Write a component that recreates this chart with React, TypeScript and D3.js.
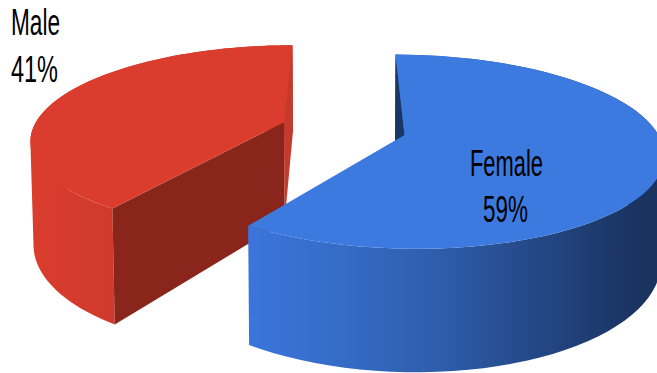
import React from "react";
import * as d3 from "d3";

const categories = ["Female", "Male"];
const shares = [59, 41];
const percentLabels = ["59%", "41%"];

const WIDTH = 657;
const HEIGHT = 373;

// Camera and solid-pie parameters (unit pie radius, Y grows toward the viewer).
const centerX = 343.5;
const centerY = 128.5;
const radiusX = 251;
const radiusY = 92;
const perspective = 0.17;
const explode = 0.25;
const depth = 101;
const angleWarp = 0.034;

type Pt = [number, number];

function project(X: number, Y: number, lower: boolean): Pt {
  const s = 1 / (1 - perspective * Y);
  const x = centerX + radiusX * X * s;
  const y = centerY + radiusY * Y * s;
  if (!lower) return [x, y];
  return [centerX + (x - centerX) * 0.99, y + depth * s];
}

// Orient a quad counter-clockwise so overlapping folds add up under nonzero fill.
function oriented(q: Pt[]): Pt[] {
  return d3.polygonArea(q) < 0 ? q.slice().reverse() : q;
}

const line = d3.line<Pt>();

const arcs = d3
  .pie<number>()
  .sort(null)
  .startAngle(0)
  .endAngle(2 * Math.PI)(shares);

function sliceGeometry(a0: number, a1: number) {
  const mid = (a0 + a1) / 2;
  const ox = Math.sin(mid) * explode;
  const oy = -Math.cos(mid) * explode;
  const viewAngle = (t: number) => t + angleWarp * Math.sin(t / 2) ** 2;
  const rim = (lower: boolean) =>
    d3
      .range(0, 73)
      .map((i) => viewAngle(a0 + ((a1 - a0) * i) / 72))
      .map((t) => project(ox + Math.sin(t), oy - Math.cos(t), lower));
  const apex = project(ox, oy, false);
  const apexLow = project(ox, oy, true);
  const top = rim(false);
  const bottom = rim(true);
  return {
    topFace: line([apex, ...top])! + "Z",
    // The curved side is one path of narrow quads so folds at the silhouette stay filled.
    outerWall: d3
      .range(0, 72)
      .map((i) => line(oriented([top[i], top[i + 1], bottom[i + 1], bottom[i]]))! + "Z")
      .join(""),
    startWall: line([apex, top[0], bottom[0], apexLow])! + "Z",
    endWall: line([apex, top[72], bottom[72], apexLow])! + "Z",
  };
}

const female = sliceGeometry(arcs[0].startAngle, arcs[0].endAngle);
const male = sliceGeometry(arcs[1].startAngle, arcs[1].endAngle);

const blueStops = d3
  .scaleLinear<string>()
  .domain([0, 0.4, 0.7, 1])
  .range(["#3b75db", "#3265b8", "#254a8a", "#1a335f"]);

const fontFamily = "'Liberation Sans', Arial, sans-serif";

function Label(props: { x: number; y: number; w: number; text: string }) {
  return (
    <text
      x={props.x}
      y={props.y}
      textLength={props.w}
      lengthAdjust="spacingAndGlyphs"
      fontFamily={fontFamily}
      fontSize={37}
      fill="#000"
    >
      {props.text}
    </text>
  );
}

export default function App() {
  return (
    <svg
      width={WIDTH}
      height={HEIGHT}
      viewBox={`0 0 ${WIDTH} ${HEIGHT}`}
      style={{ position: "absolute", left: 0, top: 0, display: "block", background: "#fff" }}
    >
      <defs>
        <linearGradient id="femaleWall" gradientUnits="userSpaceOnUse" x1={250} x2={640} y1={0} y2={0}>
          {[0, 0.25, 0.5, 0.75, 1].map((o) => (
            <stop key={o} offset={o} stopColor={blueStops(o)} />
          ))}
        </linearGradient>
        <linearGradient id="maleWall" gradientUnits="userSpaceOnUse" x1={32} x2={116} y1={0} y2={0}>
          <stop offset={0} stopColor="#da3d2e" />
          <stop offset={1} stopColor="#cf3a2c" />
        </linearGradient>
      </defs>

      {/* Left slice */}
      <g>
        <path d={male.outerWall} fill="url(#maleWall)" />
        <path d={male.endWall} fill="#c43a2c" />
        <path d={male.startWall} fill="#8a251b" />
        <path d={male.topFace} fill="#da3d2e" />
      </g>

      {/* Right slice */}
      <g>
        <path d={female.outerWall} fill="url(#femaleWall)" />
        <path d={female.startWall} fill="#1a3763" />
        <path d={female.topFace} fill="#3c7ae0" />
      </g>

      <Label x={11} y={35} w={49} text={categories[1]} />
      <Label x={11} y={82} w={47} text={percentLabels[1]} />
      <Label x={470} y={176} w={73} text={categories[0]} />
      <Label x={483} y={222} w={45} text={percentLabels[0]} />
    </svg>
  );
}
